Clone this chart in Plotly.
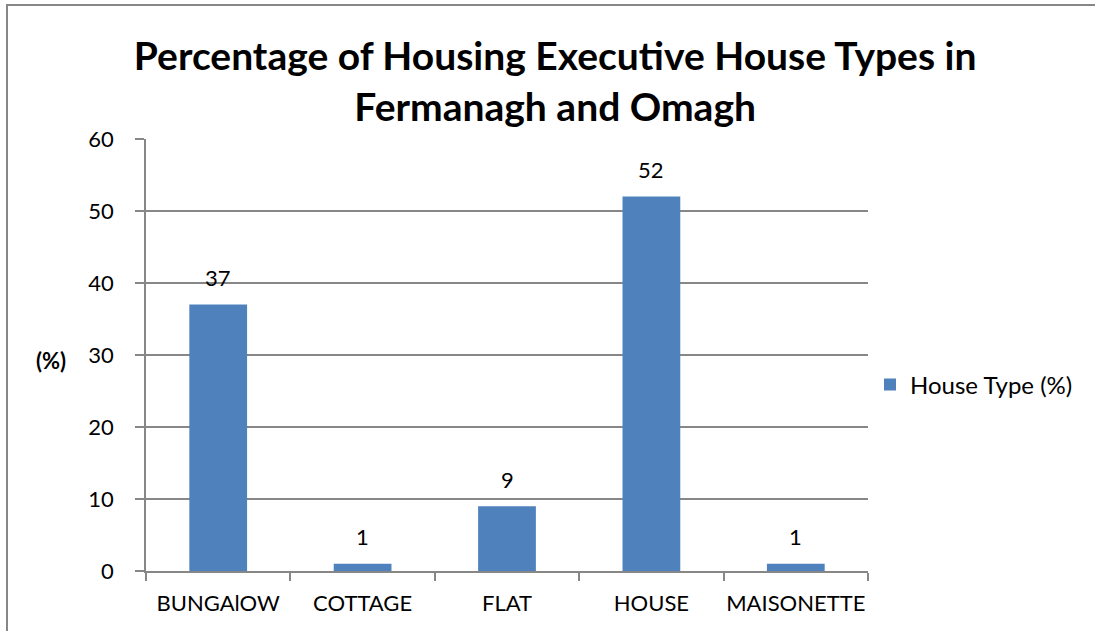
import plotly.graph_objects as go

categories = ["BUNGAlOW", "COTTAGE", "FLAT", "HOUSE", "MAISONETTE"]
values = [37, 1, 9, 52, 1]
series_name = "House Type (%)"
y_ticks = [0, 10, 20, 30, 40, 50, 60]

W, H = 1095, 631
L, R, T, B = 146, 227, 139, 60
pw, ph = W - L - R, H - T - B

FONT = "Lato, 'Open Sans', sans-serif"
GRID = "#878787"
FS = 22

fig = go.Figure()
fig.add_trace(go.Bar(
    x=categories, y=values, name=series_name,
    marker=dict(color="#4F81BD", line=dict(width=0)),
    showlegend=True,
))

for c, v in zip(categories, values):
    fig.add_annotation(
        x=c, y=v, xref="x", yref="y", text=str(v), showarrow=False,
        yanchor="middle", yshift=27,
        font=dict(size=FS, family=FONT, color="black"),
    )

fig.add_annotation(
    text="<b>(%)</b>", xref="paper", yref="paper",
    x=(51 - L) / pw, y=(H - B - 360) / ph,
    xanchor="center", yanchor="middle", showarrow=False,
    font=dict(size=FS, family=FONT, color="black"),
)

fig.update_layout(
    width=W, height=H,
    margin=dict(l=L, r=R, t=T, b=B, autoexpand=False),
    paper_bgcolor="white", plot_bgcolor="white",
    font=dict(family=FONT, color="black", size=FS),
    bargap=0.6,
    title=dict(
        text="<b>Percentage of Housing Executive House Types in<br>Fermanagh and Omagh</b>",
        x=0.507, xanchor="center", y=1 - 70 / H, yanchor="middle",
        xref="container", yref="container",
        font=dict(size=39, family=FONT, color="black"),
    ),
    showlegend=True,
    legend=dict(
        x=(870 - L) / pw, xanchor="left",
        y=(H - B - 385) / ph, yanchor="middle",
        font=dict(size=24, family=FONT, color="black"),
        bgcolor="rgba(0,0,0,0)", itemwidth=30,
    ),
    xaxis=dict(
        type="category", showgrid=False,
        showline=True, linecolor=GRID, linewidth=1.5,
        ticks="outside", tickson="boundaries", ticklen=8, tickcolor=GRID, tickwidth=1.5,
        tickfont=dict(size=FS, family=FONT, color="black"),
        tickangle=0,
        ticklabelstandoff=12,
        fixedrange=True,
    ),
    yaxis=dict(
        range=[0, 60], tickvals=y_ticks, ticktext=[str(t) for t in y_ticks],
        showgrid=True, gridcolor=GRID, gridwidth=1.5,
        showline=True, linecolor=GRID, linewidth=1.5,
        ticks="outside", ticklen=9, tickcolor=GRID, tickwidth=1.5,
        tickfont=dict(size=FS, family=FONT, color="black"),
        ticklabelstandoff=17,
        zeroline=False,
    ),
    shapes=[dict(
        type="rect", xref="paper", yref="paper",
        x0=(7 - L) / pw, x1=(W + 20 - L) / pw,
        y0=(H - B - (H + 20)) / ph, y1=(H - B - 5) / ph,
        line=dict(color=GRID, width=2), fillcolor="rgba(0,0,0,0)", layer="below",
    )],
)

fig.write_html(
    "out.html",
    config={"displayModeBar": False},
    post_script="document.body.style.margin='0';document.body.style.padding='0';",
)
